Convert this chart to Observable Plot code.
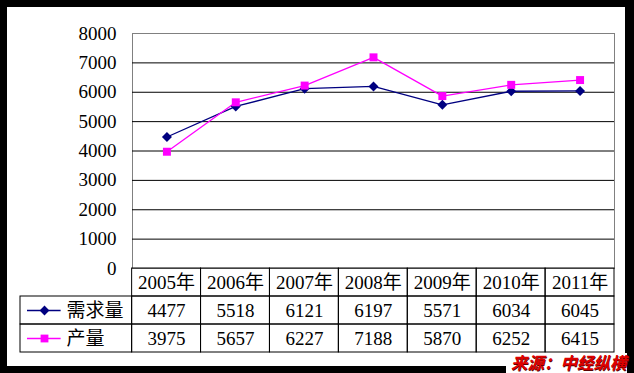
<!DOCTYPE html>
<html><head><meta charset="utf-8">
<script src="https://cdn.jsdelivr.net/npm/d3@7"></script>
<script src="https://cdn.jsdelivr.net/npm/@observablehq/plot@0.6"></script>
<style>
html,body{margin:0;padding:0;background:#000;width:634px;height:373px;overflow:hidden}
#panel{position:absolute;left:7px;top:7px;width:618px;height:359px;background:#fff}
#chart{position:absolute;left:0;top:0}
#table{position:absolute;left:0;top:267px}
#chart svg, #chart svg text, #table svg, #table svg text{font-family:"Liberation Serif","Noto Sans CJK SC",serif !important}
#table svg text.cjk, #table svg .cjk text{font-family:"Noto Sans CJK SC" !important}
#source{position:absolute;left:506px;top:353px;width:121px;height:20px;background:#fff;color:#dd0000;
  font:italic bold 16.5px "Noto Sans CJK SC";line-height:19px;padding-left:5px;box-sizing:border-box;white-space:nowrap;
  text-shadow:0.6px 0.6px 0 #5a0000}
</style></head><body>
<div id="panel"></div><div id="chart"></div><div id="table"></div><div id="source">来源：中经纵横</div>
<script>
const years = ["2005年","2006年","2007年","2008年","2009年","2010年","2011年"];
const demand = [4477,5518,6121,6197,5571,6034,6045];
const production = [3975,5657,6227,7188,5870,6252,6415];
const seriesNames = ["需求量","产量"];
const seriesColors = ["#000080","#ff00ff"];
const seriesSymbols = ["diamond2","square"];
const yTicks = [0,1000,2000,3000,4000,5000,6000,7000,8000];

const serif = "Liberation Serif, Noto Sans CJK SC, serif";
const seriesValues = [demand, production];
const rows = seriesNames.flatMap((s,k)=>years.map((yr,i)=>({year:yr, series:s, value:seriesValues[k][i]})));

const chart = Plot.plot({
  width:634, height:270, marginTop:33, marginBottom:2, marginLeft:132, marginRight:20,
  style:{background:"transparent", fontSize:"19px", color:"#000", overflow:"visible"},
  x:{type:"point", domain:years, padding:0.5, round:false, axis:null},
  y:{domain:[0,8000], ticks:yTicks, tickSize:0, tickPadding:16, label:null, line:true, tickFormat:d=>String(d)},
  color:{domain:seriesNames, range:seriesColors},
  symbol:{domain:seriesNames, range:seriesSymbols},
  marks:[
    Plot.frame({stroke:"#808080"}),
    Plot.ruleY(yTicks.filter(t=>t>0 && t<8000), {stroke:"#000", strokeWidth:1}),
    Plot.line(rows, {x:"year", y:"value", z:"series", stroke:"series", strokeWidth:1.3}),
    Plot.dot(rows, {x:"year", y:"value", symbol:"series", fill:"series", r:4.5})
  ]
});
document.getElementById("chart").append(chart);

const legendSpan = 1.62;
const cells = [];
years.forEach((yr,i)=>{ for (let r=0;r<3;r++) cells.push({x1:i,x2:i+1,y1:r,y2:r+1}); });
seriesNames.forEach((s,k)=>cells.push({x1:-legendSpan,x2:0,y1:k+1,y2:k+2}));
const headerTexts = years.map((yr,i)=>({x:i+0.5, y:0.5, text:yr}));
const valueTexts = seriesNames.flatMap((s,k)=>years.map((yr,i)=>({x:i+0.5, y:k+1.5, text:String(seriesValues[k][i])})));
const legendRows = seriesNames.map((s,k)=>({series:s, y:k+1.5}));

const table = Plot.plot({
  width:634, height:87, marginTop:1, marginBottom:2, marginLeft:20, marginRight:20,
  style:{background:"transparent", fontSize:"19px", color:"#000", overflow:"visible"},
  x:{domain:[-legendSpan, years.length], axis:null},
  y:{domain:[3,0], axis:null},
  color:{domain:seriesNames, range:seriesColors},
  symbol:{domain:seriesNames, range:seriesSymbols},
  marks:[
    Plot.rect(cells, {x1:"x1", x2:"x2", y1:"y1", y2:"y2", fill:"none", stroke:"#000", strokeWidth:1}),
    Plot.text(headerTexts, {x:"x", y:"y", text:"text", fill:"#000", fontFamily:serif}),
    Plot.text(valueTexts, {x:"x", y:"y", text:"text", fill:"#000", fontFamily:serif}),
    Plot.ruleY(legendRows, {y:"y", x1:-legendSpan, x2:0, insetLeft:7, insetRight:71, stroke:"series", strokeWidth:1.3}),
    Plot.dot(legendRows, {x:-legendSpan, y:"y", dx:24, symbol:"series", fill:"series", r:4.4}),
    Plot.text(legendRows, {x:-legendSpan, y:"y", dx:46, text:"series", textAnchor:"start", fill:"#000", fontSize:19, letterSpacing:"1px", className:"cjk"})
  ]
});
document.getElementById("table").append(table);
</script>
</body></html>
